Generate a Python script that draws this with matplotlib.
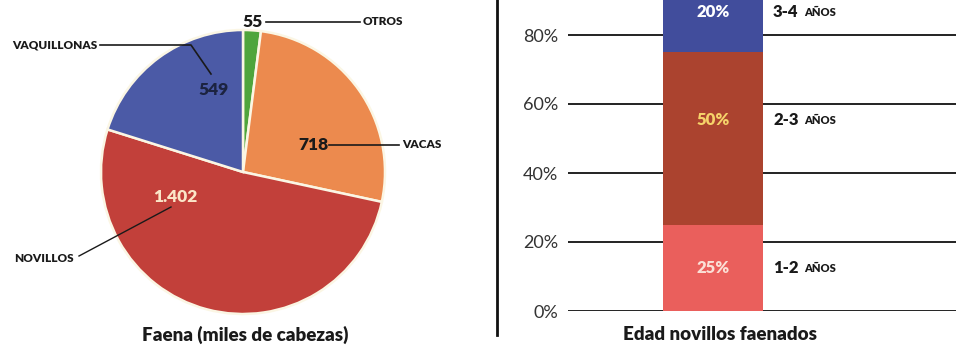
import matplotlib
matplotlib.use('Agg')
import matplotlib.pyplot as plt
from matplotlib.lines import Line2D

plt.rcParams['font.family'] = ['Lato', 'DejaVu Sans']

# Faena (miles de cabezas)
pie_labels = ['OTROS', 'VACAS', 'NOVILLOS', 'VAQUILLONAS']
pie_values = [55, 718, 1402, 549]
pie_value_text = ['55', '718', '1.402', '549']
pie_colors = ['#4fa53c', '#ec8a4e', '#c2403a', '#4b5aa6']

# Edad novillos faenados
age_labels = ['1-2', '2-3', '3-4']
age_values = [25, 50, 20]
age_colors = ['#ea5f5c', '#ab432f', '#414d9c']
age_text_colors = ['#fbe0d6', '#f6d36a', '#ffffff']
age_label_y = [12.5, 55.5, 86.6]
y_ticks = [0, 20, 40, 60, 80]

W, H = 956, 351
fig = plt.figure(figsize=(W / 100, H / 100), dpi=100)
fig.patch.set_facecolor('white')

# ---- pie ----
cx, cy, r = 243, 172, 142
ax1 = fig.add_axes([(cx - r) / W, (H - cy - r) / H, 2 * r / W, 2 * r / H])
ax1.pie(pie_values, colors=pie_colors, startangle=90, counterclock=False,
        wedgeprops=dict(edgecolor='#fbf6e4', linewidth=1.8))
ax1.set_xlim(-1, 1)
ax1.set_ylim(-1, 1)
ax1.set_aspect('equal')
ax1.axis('off')


def px(x, y):
    # pixel in the picture -> pie data coords
    return ((x - cx) / r, (cy - y) / r)


HW = 'heavy'
bold = dict(fontweight=HW, color='#1a1a1a')
num_fs, lab_fs = 12.5, 8.5
# OTROS
ax1.text(*px(253, 22), pie_value_text[0], ha='center', va='center', fontsize=num_fs, **bold)
ax1.add_line(Line2D(*zip(px(266, 22), px(360, 22)), color='#1a1a1a', lw=1.2, clip_on=False))
ax1.text(*px(363, 22), pie_labels[0], ha='left', va='center', fontsize=lab_fs, **bold)
# VACAS
ax1.text(*px(313, 145), pie_value_text[1], ha='center', va='center', fontsize=num_fs, **bold)
ax1.add_line(Line2D(*zip(px(329, 145), px(399, 145)), color='#1a1a1a', lw=1.2, clip_on=False))
ax1.text(*px(402, 145), pie_labels[1], ha='left', va='center', fontsize=lab_fs, **bold)
# NOVILLOS
ax1.text(*px(175, 197), pie_value_text[2], ha='center', va='center', fontsize=num_fs,
         fontweight=HW, color='#fbe6c8')
ax1.add_line(Line2D(*zip(px(171, 207), px(79, 256)), color='#1a1a1a', lw=1.0, clip_on=False))
ax1.text(*px(74, 258), pie_labels[2], ha='right', va='center', fontsize=lab_fs, **bold)
# VAQUILLONAS
ax1.text(*px(214, 90), pie_value_text[3], ha='center', va='center', fontsize=num_fs,
         fontweight=HW, color='#1c2340')
ax1.add_line(Line2D(*zip(px(100, 45), px(191, 45), px(211, 74)), color='#1a1a1a', lw=1.2,
                    clip_on=False))
ax1.text(*px(97, 45), pie_labels[3], ha='right', va='center', fontsize=lab_fs, **bold)

fig.text(245 / W, 1 - 335 / H, 'Faena (miles de cabezas)', ha='center', va='center',
         fontsize=13.5, fontweight=HW, color='#1a1a1a')

# ---- stacked bar ----
y0, y20 = 311, 242
per = (y0 - y20) / 20.0
top_val = y0 / per
ax_left, ax_right = 568, W
ax2 = fig.add_axes([ax_left / W, (H - y0) / H, (ax_right - ax_left) / W, y0 / H])
bar_c, bar_w = 713, 100
ax2.set_xlim(-(bar_c - ax_left) / bar_w, (ax_right - bar_c) / bar_w)
ax2.set_ylim(0, top_val)

for t in y_ticks:
    ax2.axhline(t, color='#222222', lw=1.4, zorder=1)

bottom = 0
for i, (lab, v, c, tc) in enumerate(zip(age_labels, age_values, age_colors, age_text_colors)):
    h = 100 - bottom if i == len(age_labels) - 1 else v
    ax2.bar(0, h, bottom=bottom, width=1.0, color=c, zorder=2)
    ly = age_label_y[i]
    ax2.text(0, ly, f'{v}%', ha='center', va='center', fontsize=12, fontweight=HW,
             color=tc, zorder=3)
    t1 = ax2.text(0.6, ly, lab, ha='left', va='center', fontsize=12, fontweight=HW,
                  color='#1a1a1a')
    ax2.annotate('AÑOS', xy=(1, 0.5), xycoords=t1, xytext=(4, -0.5),
                 textcoords='offset points', ha='left', va='center', fontsize=8,
                 fontweight=HW, color='#1a1a1a')
    bottom += v

ax2.set_yticks(y_ticks)
ax2.set_yticklabels([f'{t}%' for t in y_ticks], fontsize=13, color='#333333',
                    fontweight='normal')
ax2.tick_params(axis='y', length=0, pad=7)
ax2.set_xticks([])
for s in ax2.spines.values():
    s.set_visible(False)
ax2.patch.set_alpha(0)

fig.text(720 / W, 1 - 335 / H, 'Edad novillos faenados', ha='center', va='center',
         fontsize=13.5, fontweight=HW, color='#1a1a1a')

# divider
fig.add_artist(Line2D([497 / W, 497 / W], [1.0, 1 - 335 / H], color='#111111', lw=2.0))

fig.savefig('out.png', dpi=100, facecolor='white')
